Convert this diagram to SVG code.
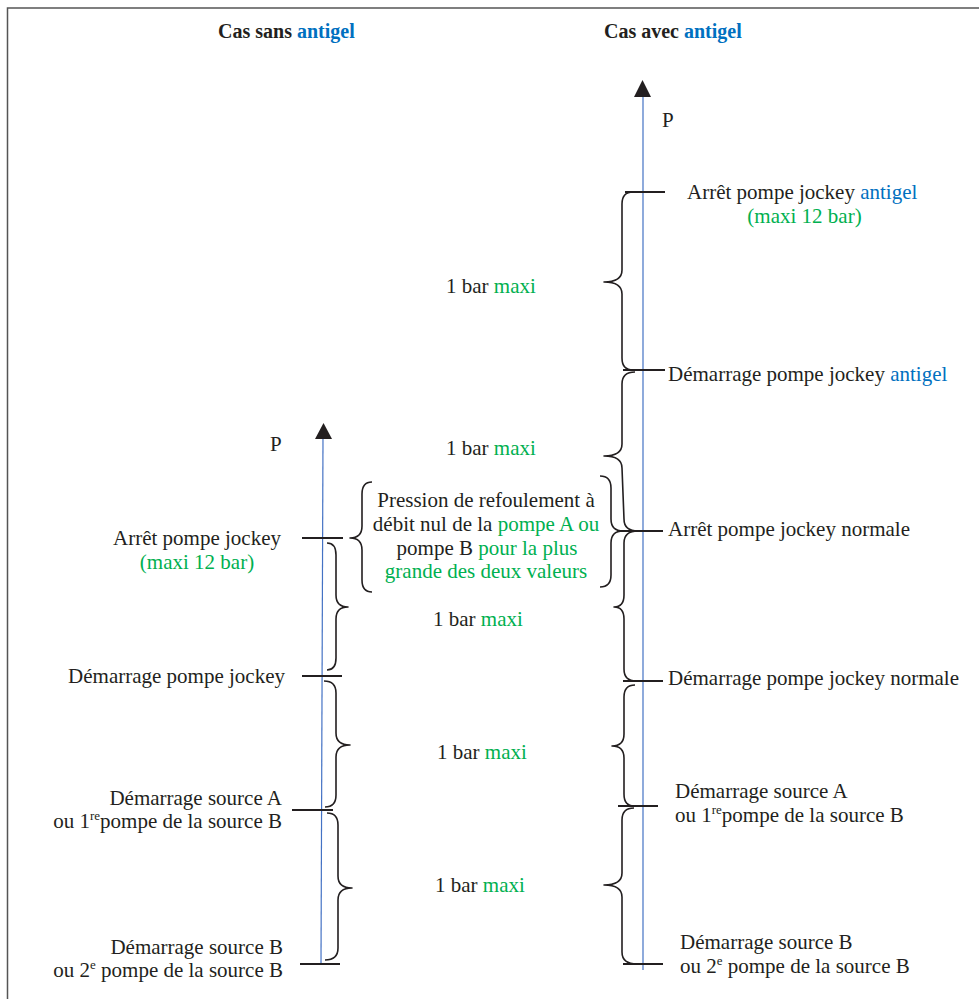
<svg xmlns="http://www.w3.org/2000/svg" width="979" height="999" viewBox="0 0 979 999">
<style>
text{font-family:"Liberation Serif","Times New Roman",serif;font-size:21px;fill:#231f20}
.t{font-size:20px;font-weight:bold}
.b{fill:#0070c0}
.g{fill:#00b050}
.ax{stroke:#4472c4;stroke-width:1.2;fill:none}
.tk{stroke:#231f20;stroke-width:1.8;fill:none}
.br{stroke:#231f20;stroke-width:1.6;fill:none;stroke-linejoin:round}
.sup{font-size:13px}
</style>
<rect x="7.5" y="8" width="1000" height="1000" fill="none" stroke="#555" stroke-width="1.5"/>
<g id="titles">
<text class="t" x="218" y="38">Cas sans <tspan class="b">antigel</tspan></text>
<text class="t" x="604" y="38">Cas avec <tspan class="b">antigel</tspan></text>
</g>
<g id="axis-left">
<line class="ax" x1="323" y1="436" x2="321" y2="963"/>
<polygon points="323.5,423 315,439 332,439" fill="#231f20"/>
<text x="270" y="451">P</text>
</g>
<g id="axis-right">
<line class="ax" x1="643" y1="96" x2="643" y2="970"/>
<polygon points="642.5,80 634,97 651,97" fill="#231f20"/>
<text x="662" y="127">P</text>
</g>
<g id="connectors">
<line class="tk" x1="625" y1="192" x2="665" y2="192"/>
<line class="tk" x1="623" y1="370" x2="665" y2="370"/>
<line class="tk" x1="621" y1="531" x2="663" y2="531"/>
<line class="tk" x1="623" y1="681" x2="663" y2="681"/>
<line class="tk" x1="618" y1="806" x2="658" y2="806"/>
<line class="tk" x1="623" y1="964" x2="663" y2="964"/>
<line class="tk" x1="302" y1="538" x2="343" y2="538"/>
<line class="tk" x1="302" y1="676" x2="342" y2="676"/>
<line class="tk" x1="292" y1="810" x2="333" y2="810"/>
<line class="tk" x1="300" y1="964" x2="340" y2="964"/>
<path class="br" d="M633,192 Q622,192 622,204 L622,270 Q622,282 604,282 Q622,282 622,294 L622,358 Q622,370 633,370"/>
<path class="br" d="M635,372 Q622,372 622,384 L622,444 Q622,456 604,456 Q622,456 622,468 L624,519 Q624,531 638,531"/>
<path class="br" d="M638,531 Q624,531 624,543 L624,595 Q624,607 614,607 Q624,607 624,619 L624,669 Q624,681 636,681"/>
<path class="br" d="M635,685 Q624,685 624,697 L624,734 Q624,746 612,746 Q624,746 624,758 L624,794 Q624,806 634,806"/>
<path class="br" d="M634,808 Q622,808 622,820 L622,873 Q622,885 604,885 Q622,885 622,897 L622,952 Q622,964 637,964"/>
<path class="br" d="M600,476 Q611,476 611,488 L611,519 Q611,531 623,531 Q611,531 611,543 L611,575 Q611,587 600,587"/>
<path class="br" d="M372,482 Q362,482 362,494 L362,526 Q362,538 350,538 Q362,538 362,550 L362,580 Q362,592 372,592"/>
<path class="br" d="M327,543 Q336,543 336,555 L336,595 Q336,607 348,607 Q336,607 336,619 L336,658 Q336,670 327,670"/>
<path class="br" d="M324,681 Q336,681 336,693 L336,733 Q336,745 350,745 Q336,745 336,757 L336,795 Q336,807 325,807"/>
<path class="br" d="M327,813 Q338,813 338,825 L338,876 Q338,888 352,888 Q338,888 338,900 L338,948 Q338,960 325,960"/>
</g>
<g id="r-arret-antigel">
<text x="687" y="199">Arrêt pompe jockey <tspan class="b">antigel</tspan></text>
<text class="g" x="804.5" y="223" text-anchor="middle">(maxi 12 bar)</text>
</g>
<g id="r-demarrage-antigel">
<text x="668" y="381">Démarrage pompe jockey <tspan class="b">antigel</tspan></text>
</g>
<g id="r-arret-normale">
<text x="668" y="536">Arrêt pompe jockey normale</text>
</g>
<g id="r-demarrage-normale">
<text x="668" y="685">Démarrage pompe jockey normale</text>
</g>
<g id="r-source-a">
<text x="675" y="798">Démarrage source A</text>
<text x="675" y="822">ou 1<tspan class="sup" dy="-8">re</tspan><tspan dy="8">pompe de la source B</tspan></text>
</g>
<g id="r-source-b">
<text x="680" y="949">Démarrage source B</text>
<text x="680" y="973">ou 2<tspan class="sup" dy="-8">e</tspan><tspan dy="8"> pompe de la source B</tspan></text>
</g>
<g id="l-arret">
<text x="281" y="545" text-anchor="end">Arrêt pompe jockey</text>
<text class="g" x="197" y="569" text-anchor="middle">(maxi 12 bar)</text>
</g>
<g id="l-demarrage">
<text x="285" y="683" text-anchor="end">Démarrage pompe jockey</text>
</g>
<g id="l-source-a">
<text x="282" y="805" text-anchor="end">Démarrage source A</text>
<text x="282" y="828" text-anchor="end">ou 1<tspan class="sup" dy="-8">re</tspan><tspan dy="8">pompe de la source B</tspan></text>
</g>
<g id="l-source-b">
<text x="283" y="954" text-anchor="end">Démarrage source B</text>
<text x="283" y="977" text-anchor="end">ou 2<tspan class="sup" dy="-8">e</tspan><tspan dy="8"> pompe de la source B</tspan></text>
</g>
<g id="pression">
<text x="486" y="507" text-anchor="middle">Pression de refoulement à</text>
<text x="486" y="531" text-anchor="middle">débit nul de la <tspan class="g">pompe A ou</tspan></text>
<text x="487" y="555" text-anchor="middle">pompe B <tspan class="g">pour la plus</tspan></text>
<text x="486" y="578" text-anchor="middle" class="g">grande des deux valeurs</text>
</g>
<g id="intervals">
<text x="446" y="293">1 bar <tspan class="g">maxi</tspan></text>
<text x="446" y="455">1 bar <tspan class="g">maxi</tspan></text>
<text x="433" y="626">1 bar <tspan class="g">maxi</tspan></text>
<text x="437" y="759">1 bar <tspan class="g">maxi</tspan></text>
<text x="435" y="892">1 bar <tspan class="g">maxi</tspan></text>
</g>
</svg>
